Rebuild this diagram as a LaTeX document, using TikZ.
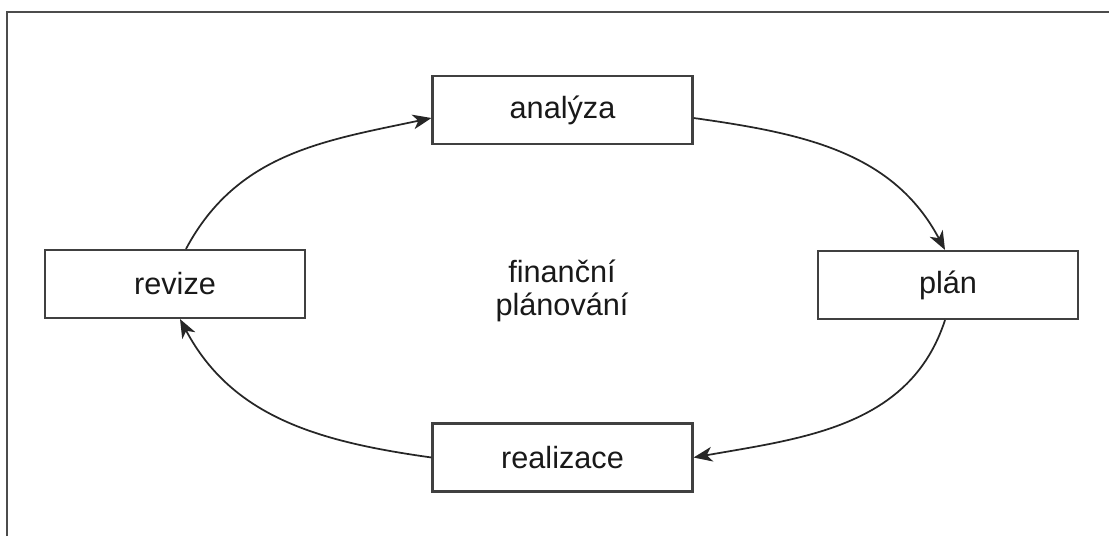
\documentclass[tikz,border=0pt]{standalone}
\usepackage{fontspec}
\setmainfont{Liberation Sans}
\usetikzlibrary{arrows.meta}
\begin{document}
\begin{tikzpicture}[x=0.75pt,y=0.75pt,
  stagebox/.style={draw=black!75, line width=1.6pt, minimum width=260*0.75pt, minimum height=68*0.75pt, inner sep=0pt, font=\fontsize{23}{27}\selectfont, text=black!90},
  flow/.style={draw=black!85, line width=1.3pt, -{Stealth[length=14pt,width=11pt,inset=4pt]}}
]
\useasboundingbox (0,0) rectangle (1109,536);
\fill[white] (0,0) rectangle (1109,536);
\draw[black!70, line width=1.6pt] (7,0) -- (7,524) -- (1109,524);

\node[stagebox] (analyza) at (562.5,426) {analýza};
\node[stagebox] (plan) at (948,251) {plán};
\node[stagebox] (revize) at (175,252) {revize};
\node[stagebox] (realizace) at (562.5,78.5) {realizace};

\node[align=center, font=\fontsize{23}{25}\selectfont, text=black!90] (center) at (562,245) {finanční\\plánování};

\draw[flow] ([xshift=11*0.75pt]revize.north) to[out=62, in=192] ([yshift=-8*0.75pt]analyza.west);
\draw[flow] ([yshift=-8*0.75pt]analyza.east) to[out=-8, in=118] ([xshift=-3*0.75pt]plan.north);
\draw[flow] ([xshift=-3*0.75pt]plan.south) to[out=-108, in=10] (realizace.east);
\draw[flow] (realizace.west) to[out=172, in=-62] ([xshift=5*0.75pt]revize.south);
\end{tikzpicture}
\end{document}
